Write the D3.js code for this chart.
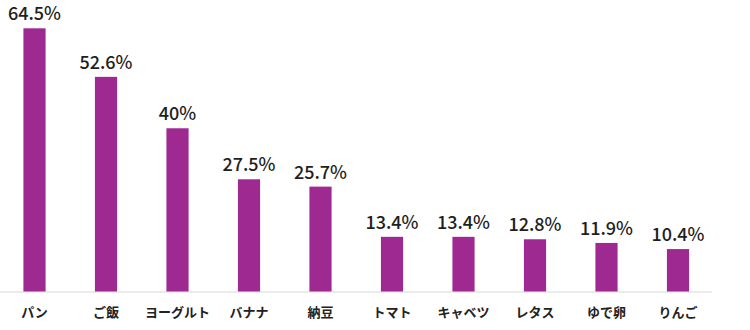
<!DOCTYPE html>
<html>
<head>
<meta charset="utf-8">
<script src="https://cdn.jsdelivr.net/npm/d3@7"></script>
<style>
  html, body { margin: 0; padding: 0; background: #fff; }
  svg { display: block; }
</style>
</head>
<body>
<svg id="chart" width="750" height="330"></svg>
<script>
// Breakfast items and share of respondents (%)
const categories = ["パン", "ご飯", "ヨーグルト", "バナナ", "納豆", "トマト", "キャベツ", "レタス", "ゆで卵", "りんご"];
const values = [64.5, 52.6, 40, 27.5, 25.7, 13.4, 13.4, 12.8, 11.9, 10.4];

const svg = d3.select("#chart");
const baseY = 291.5;

const x = d3.scaleBand()
  .domain(categories)
  .range([-1.25, 713.75])
  .paddingInner(0.69)
  .paddingOuter(0.345);

const y = d3.scaleLinear()
  .domain([0, 64.5])
  .range([baseY, 28.3]);

// baseline
svg.append("line")
  .attr("x1", 0).attr("x2", 712)
  .attr("y1", baseY + 0.5).attr("y2", baseY + 0.5)
  .attr("stroke", "#e4e4e4")
  .attr("stroke-width", 1.5);

const data = categories.map((c, i) => ({ c, v: values[i] }));

svg.selectAll("rect.bar")
  .data(data)
  .enter().append("rect")
  .attr("class", "bar")
  .attr("x", d => x(d.c))
  .attr("width", x.bandwidth())
  .attr("y", d => y(d.v))
  .attr("height", d => baseY - y(d.v))
  .attr("fill", "#9e2a91");

// value labels
svg.selectAll("text.val")
  .data(data)
  .enter().append("text")
  .attr("class", "val")
  .attr("x", d => x(d.c) + x.bandwidth() / 2)
  .attr("y", d => y(d.v) - 8)
  .attr("text-anchor", "middle")
  .attr("font-family", "'Noto Sans CJK JP', 'Noto Sans', sans-serif")
  .attr("font-weight", 500)
  .attr("font-size", 18)
  .attr("fill", "#1e1e1e")
  .text(d => d.v + "%");

// category labels
svg.selectAll("text.cat")
  .data(data)
  .enter().append("text")
  .attr("class", "cat")
  .attr("x", d => x(d.c) + x.bandwidth() / 2)
  .attr("y", 316.5)
  .attr("text-anchor", "middle")
  .attr("font-family", "'Noto Sans CJK JP', sans-serif")
  .attr("font-weight", 700)
  .attr("font-size", 13)
  .attr("fill", "#222")
  .text(d => d.c);
</script>
</body>
</html>
